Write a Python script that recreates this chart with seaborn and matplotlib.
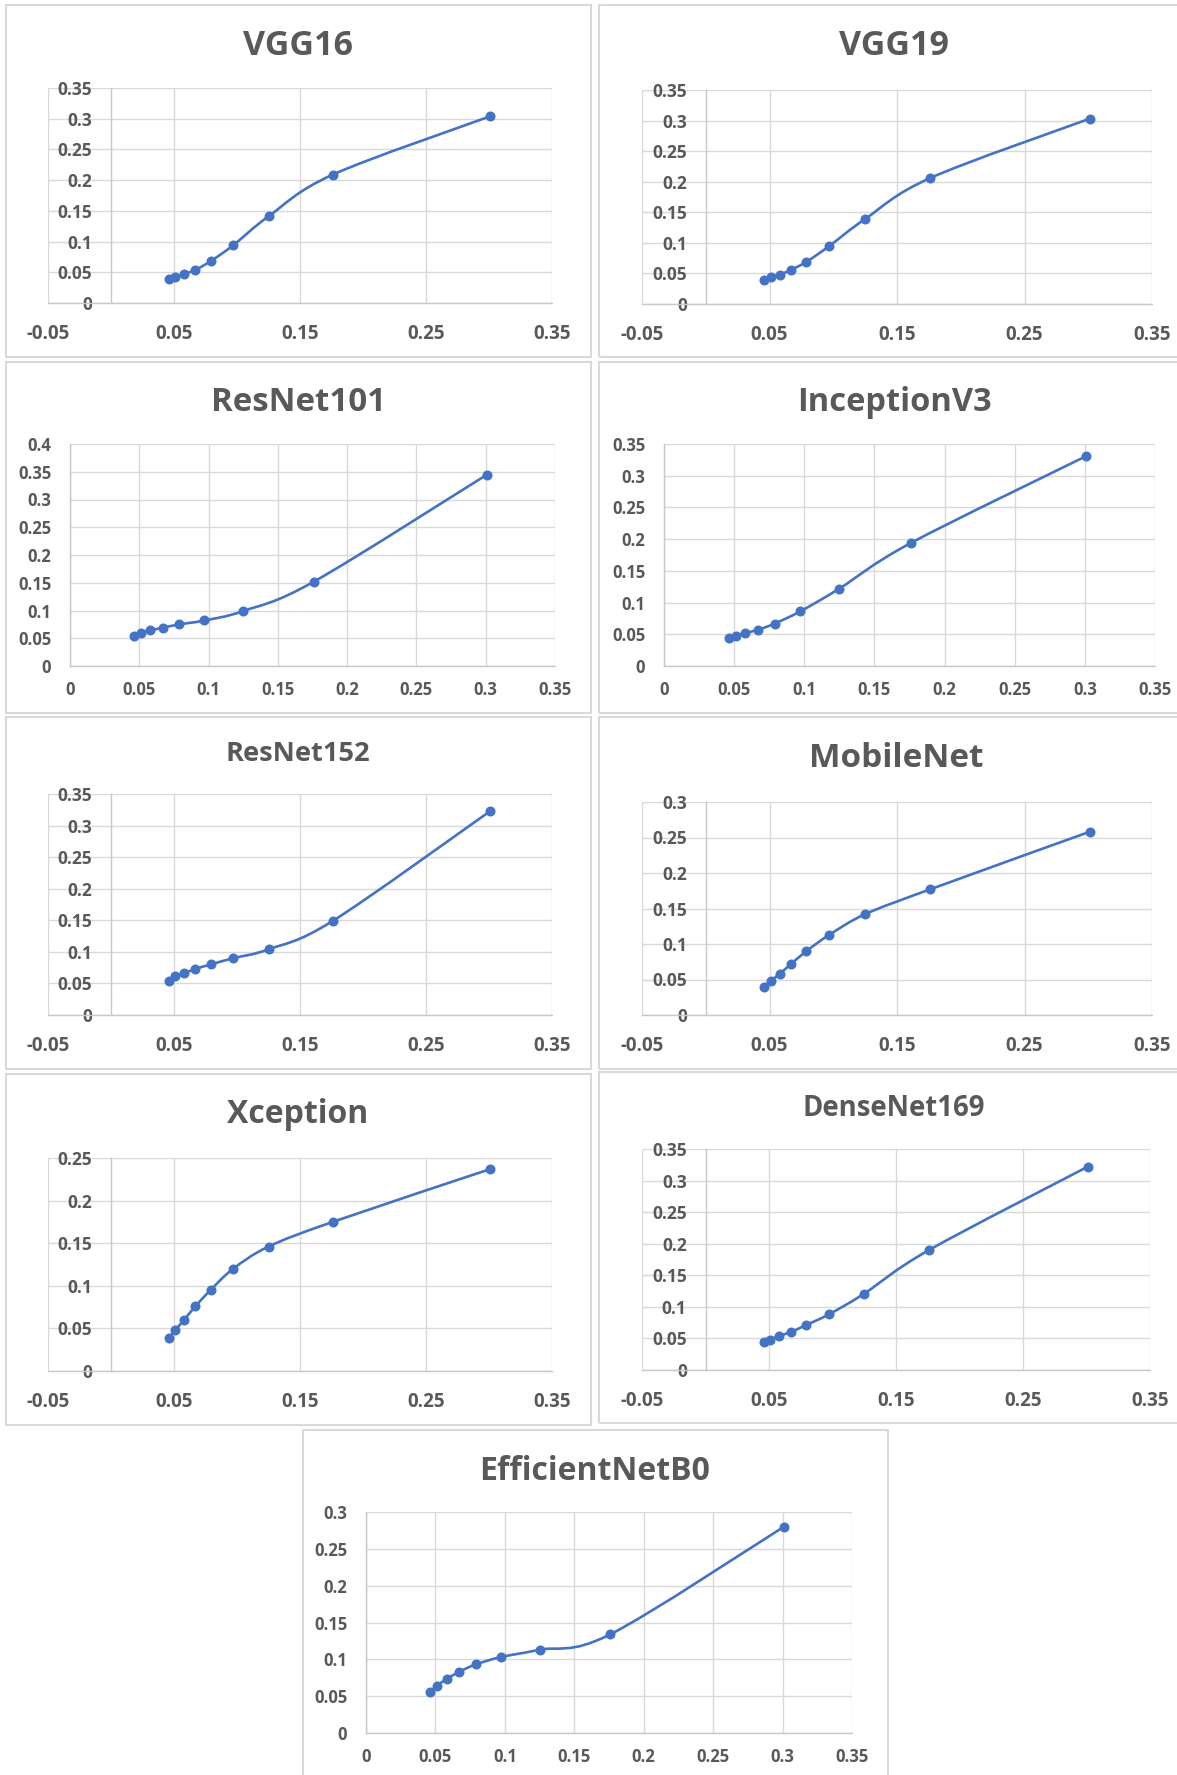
import numpy as np
import matplotlib
matplotlib.use("Agg")
import matplotlib.pyplot as plt
import seaborn as sns
from matplotlib.path import Path
from matplotlib.patches import PathPatch, Rectangle

# --- DATA ---
x_vals = [0.046, 0.051, 0.058, 0.067, 0.079, 0.097, 0.125, 0.176, 0.301]

names = ["VGG16", "VGG19", "ResNet101", "InceptionV3", "ResNet152",
         "MobileNet", "Xception", "DenseNet169", "EfficientNetB0"]

vgg16 = [0.039, 0.042, 0.047, 0.054, 0.068, 0.094, 0.141, 0.209, 0.304]
vgg19 = [0.040, 0.044, 0.048, 0.056, 0.069, 0.095, 0.139, 0.206, 0.303]
resnet101 = [0.054, 0.059, 0.064, 0.069, 0.075, 0.082, 0.099, 0.152, 0.345]
inceptionv3 = [0.044, 0.047, 0.052, 0.057, 0.067, 0.086, 0.122, 0.194, 0.331]
resnet152 = [0.054, 0.061, 0.066, 0.073, 0.080, 0.090, 0.104, 0.149, 0.323]
mobilenet = [0.040, 0.048, 0.058, 0.072, 0.090, 0.113, 0.142, 0.177, 0.258]
xception = [0.039, 0.048, 0.060, 0.076, 0.095, 0.120, 0.146, 0.175, 0.237]
densenet169 = [0.044, 0.048, 0.054, 0.060, 0.071, 0.088, 0.121, 0.190, 0.322]
efficientnetb0 = [0.055, 0.064, 0.073, 0.083, 0.093, 0.103, 0.113, 0.134, 0.280]

series = [vgg16, vgg19, resnet101, inceptionv3, resnet152,
          mobilenet, xception, densenet169, efficientnetb0]

# axis ticks per panel
xticks_a = [-0.05, 0.05, 0.15, 0.25, 0.35]
xlabels_a = ["-0.05", "0.05", "0.15", "0.25", "0.35"]
xticks_b = [0, 0.05, 0.1, 0.15, 0.2, 0.25, 0.3, 0.35]
xlabels_b = ["0", "0.05", "0.1", "0.15", "0.2", "0.25", "0.3", "0.35"]
yticks_035 = [0, 0.05, 0.1, 0.15, 0.2, 0.25, 0.3, 0.35]
ylabels_035 = ["0", "0.05", "0.1", "0.15", "0.2", "0.25", "0.3", "0.35"]
yticks_04 = yticks_035 + [0.4]
ylabels_04 = ylabels_035 + ["0.4"]
yticks_03 = yticks_035[:-1]
ylabels_03 = ylabels_035[:-1]
yticks_025 = yticks_035[:-2]
ylabels_025 = ylabels_035[:-2]

x_kind = ["a", "a", "b", "b", "a", "a", "a", "a", "b"]
y_ticks = [yticks_035, yticks_035, yticks_04, yticks_035, yticks_035,
           yticks_03, yticks_025, yticks_035, yticks_03]
y_labels = [ylabels_035, ylabels_035, ylabels_04, ylabels_035, ylabels_035,
            ylabels_03, ylabels_025, ylabels_035, ylabels_03]

# --- LAYOUT (pixels in a 1177x1775 canvas) ---
W, H = 1177, 1775
plot_rects = [(48, 88, 552, 303), (642, 90, 1152, 304),
              (70, 444, 555, 666), (664, 444, 1155, 666),
              (48, 794, 552, 1015), (642, 802, 1152, 1015),
              (48, 1158, 552, 1371), (642, 1149, 1150, 1370),
              (366, 1512, 852, 1733)]
box_rects = [(6, 5, 591, 357), (599, 5, 1195, 357),
             (6, 362, 591, 713), (599, 362, 1195, 713),
             (6, 717, 591, 1069), (599, 717, 1195, 1069),
             (6, 1074, 591, 1425), (599, 1072, 1195, 1423),
             (303, 1430, 888, 1800)]
title_pos = [(298, 55), (894, 55), (298, 411), (894, 411), (298, 761),
             (896, 767), (298, 1123), (894, 1116), (595, 1480)]
title_size = [24.5, 24.5, 23.8, 23.5, 19.6, 24, 23, 19.8, 23]

BLUE = "#4472C4"
GREY_TXT = "#595959"
GRID = "#d9d9d9"


def smooth_path(xs, ys):
    # Excel-style smoothed line: Catmull-Rom segments as cubic Beziers
    pts = np.column_stack([xs, ys])
    n = len(pts)
    verts, codes = [pts[0]], [Path.MOVETO]
    for i in range(n - 1):
        p0 = pts[max(i - 1, 0)]
        p1, p2 = pts[i], pts[i + 1]
        p3 = pts[min(i + 2, n - 1)]
        verts += [p1 + (p2 - p0) / 6, p2 - (p3 - p1) / 6, p2]
        codes += [Path.CURVE4] * 3
    return Path(verts, codes)


sns.set_style("white")
plt.rcParams["font.family"] = ["Open Sans", "DejaVu Sans"]
plt.rcParams["font.weight"] = "bold"

fig = plt.figure(figsize=(W / 100, H / 100), dpi=100)
fig.patch.set_facecolor("white")

for i, name in enumerate(names):
    bl, bt, br, bb = box_rects[i]
    fig.add_artist(Rectangle((bl / W, 1 - bb / H), (br - bl) / W, (bb - bt) / H,
                             transform=fig.transFigure, fill=False,
                             ec=GRID, lw=1.5))

    l, t, r, b = plot_rects[i]
    ax = fig.add_axes([l / W, 1 - b / H, (r - l) / W, (b - t) / H])

    if x_kind[i] == "a":
        xt, xl, xmin, xfs, xpad, yfs = xticks_a, xlabels_a, -0.05, 13.5, 15, 12.5
    else:
        xt, xl, xmin, xfs, xpad, yfs = xticks_b, xlabels_b, 0.0, 12, 11, 12
    yt, yl = y_ticks[i], y_labels[i]

    ax.set_xlim(xmin, 0.35)
    ax.set_ylim(0, yt[-1])
    ax.set_xticks(xt)
    ax.set_xticklabels(xl)
    ax.set_yticks(yt)
    ax.set_yticklabels(yl)
    ax.grid(True, color=GRID, lw=1)
    ax.set_axisbelow(True)

    for s in ["top", "right"]:
        ax.spines[s].set_visible(False)
    ax.spines["left"].set_position(("data", 0))
    ax.spines["left"].set_color("#c8c8c8")
    ax.spines["bottom"].set_color("#c8c8c8")
    ax.spines["left"].set_linewidth(1)
    ax.spines["bottom"].set_linewidth(1)

    ax.tick_params(length=0, colors=GREY_TXT)
    ax.tick_params(axis="y", labelsize=yfs, pad=13.5)
    ax.tick_params(axis="x", labelsize=xfs, pad=xpad)
    for lab in ax.get_xticklabels() + ax.get_yticklabels():
        lab.set_fontweight("bold")

    ax.add_patch(PathPatch(smooth_path(x_vals, series[i]), fill=False,
                           ec=BLUE, lw=1.9, zorder=3, capstyle="round"))
    sns.scatterplot(x=x_vals, y=series[i], ax=ax, color=BLUE, s=52,
                    linewidth=0, zorder=4, legend=False)
    ax.set_xlabel("")
    ax.set_ylabel("")

    tx, ty = title_pos[i]
    fig.text(tx / W, 1 - ty / H, name, ha="center", va="baseline",
             fontsize=title_size[i], color=GREY_TXT, weight="bold")

fig.savefig("out.png", dpi=100, facecolor="white")
